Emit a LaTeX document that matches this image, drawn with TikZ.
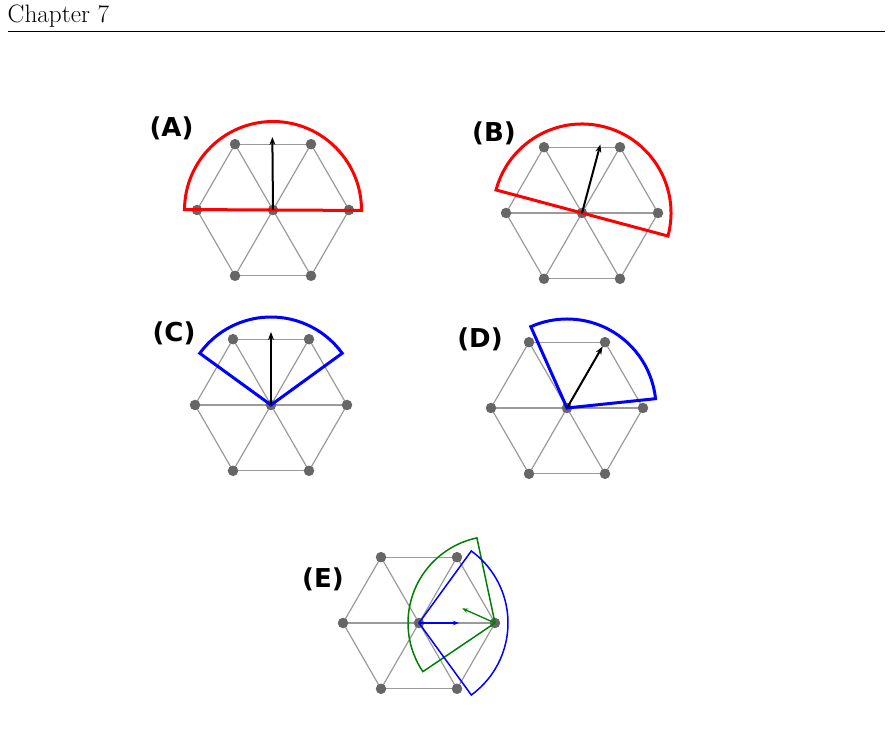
\documentclass[tikz,border=0pt]{standalone}
\usepackage{fontspec}
\newfontfamily\lblfont{DejaVu Sans}
\usetikzlibrary{calc,arrows.meta,backgrounds}
\definecolor{dotgray}{HTML}{666666}
\definecolor{edgegray}{HTML}{9A9A9A}
\definecolor{sectgreen}{HTML}{008000}
\tikzset{
  dot/.style={circle,fill=dotgray,inner sep=0pt,minimum size=10.5pt},
  edge/.style={draw=edgegray,line width=1.2pt},
  lbl/.style={font=\lblfont\bfseries\fontsize{26}{30}\selectfont,inner sep=0pt,anchor=center},
  redsec/.style={draw=red,line width=3pt,line join=miter},
  bluesec/.style={draw=blue,line width=3pt,line join=miter},
  thinblue/.style={draw=blue,line width=1.5pt,line join=miter},
  thingreen/.style={draw=sectgreen,line width=1.5pt,line join=miter},
  vec/.style={draw=black,line width=2pt,-{Stealth[length=8pt,width=6pt]}},
  smallvec/.style={line width=1.3pt,-{Stealth[length=6pt,width=4.5pt]}},
}
\newcommand\hexgrid[2]{%
  \node[dot] (#1c) at (#2) {};
  \foreach \i in {0,...,5} {\node[dot] (#1\i) at ($(#2)+(\i*60:76)$) {};}
  \begin{scope}[on background layer]
    \foreach \i in {0,...,5} {
      \pgfmathtruncatemacro\j{mod(\i+1,6)}
      \draw[edge] (#1\i.center) -- (#1\j.center);
      \draw[edge] (#1c.center) -- (#1\i.center);
    }
  \end{scope}
}
\begin{document}
\begin{tikzpicture}[x=1pt,y=1pt]
\useasboundingbox (0,0) rectangle (892,754);
% header
\node[anchor=base west,inner sep=0pt,font=\fontsize{25.2}{30}\selectfont] (title) at (7.5,731) {Chapter 7};
\draw[line width=1pt] (8,722) coordinate (rl) -- (885,722) coordinate (rr);

% (A)
\hexgrid{A}{273,544}
\node[lbl] (labA) at (171.5,626) {(A)};
\draw[redsec] ($(Ac)+(-0.3:88.5)$) arc[start angle=-0.3,end angle=179.7,radius=88.5] -- cycle;
\coordinate (Atip) at ($(Ac)+(90.5:73)$);
\draw[vec] (Ac.center) -- (Atip);

% (B)
\hexgrid{B}{582,541}
\node[lbl] (labB) at (494,621) {(B)};
\draw[redsec] ($(Bc)+(-15:89)$) arc[start angle=-15,end angle=165,radius=89] -- cycle;
\coordinate (Btip) at ($(Bc)+(75:71)$);
\draw[vec] (Bc.center) -- (Btip);

% (C)
\hexgrid{C}{271,349}
\node[lbl] (labC) at (174,421) {(C)};
\draw[bluesec] (Cc.center) -- ($(Cc)+(36:88)$) arc[start angle=36,end angle=144,radius=88] -- cycle;
\coordinate (Ctip) at ($(Cc)+(90:73)$);
\draw[vec] (Cc.center) -- (Ctip);

% (D)
\hexgrid{D}{567,346}
\node[lbl] (labD) at (480,415) {(D)};
\draw[bluesec] (Dc.center) -- ($(Dc)+(6:89)$) arc[start angle=6,end angle=114,radius=89] -- cycle;
\coordinate (Dtip) at ($(Dc)+(60:71)$);
\draw[vec] (Dc.center) -- (Dtip);

% (E)
\hexgrid{E}{419,131}
\node[lbl] (labE) at (323,175) {(E)};
\draw[thingreen] (E0.center) -- ($(E0)+(102:87)$) arc[start angle=102,end angle=214,radius=87] -- cycle;
\draw[thinblue] (Ec.center) -- ($(Ec)+(-54:89)$) arc[start angle=-54,end angle=54,radius=89] -- cycle;
\coordinate (EtipG) at ($(E0)+(156:36)$);
\coordinate (EtipB) at ($(Ec)+(0:40)$);
\draw[smallvec,sectgreen] (E0.center) -- (EtipG);
\draw[smallvec,blue] (Ec.center) -- (EtipB);
\end{tikzpicture}
\end{document}
